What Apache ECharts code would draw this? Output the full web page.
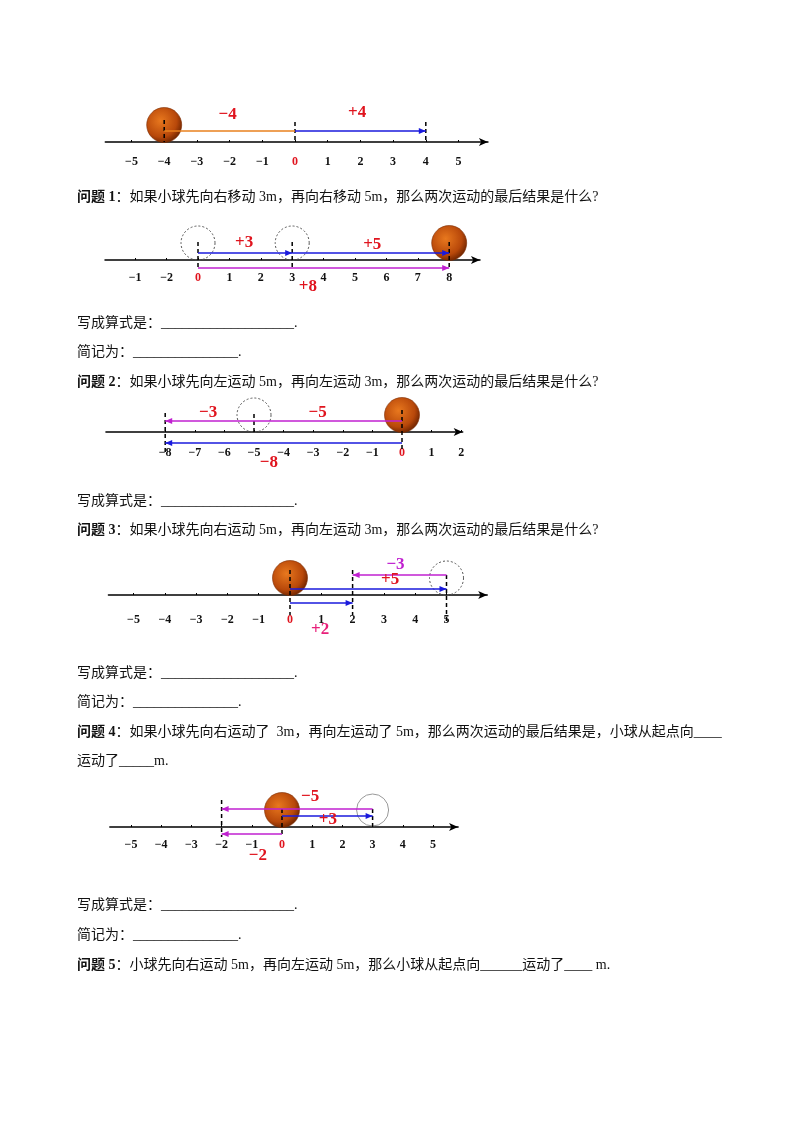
<!DOCTYPE html>
<html><head><meta charset="utf-8">
<script src="https://cdn.jsdelivr.net/npm/echarts@6/dist/echarts.min.js"></script>
<style>html,body{margin:0;background:#fff}#c{width:800px;height:1132px}</style>
</head><body><div id="c"></div>
<script>
// number lines: tick values, label texts, moves (from, to, height above axis, kind)
const ticks1 = [-5,-4,-3,-2,-1,0,1,2,3,4,5];
const labels1 = ['−5','−4','−3','−2','−1','0','1','2','3','4','5'];
const moves1 = [[-4,0,11,'orange'],[0,4,11,'blue']];
const dashes1 = [[-4,22,0],[0,20,0],[4,20,0]];
const balls1 = [[-4,17]];
const rings1 = [];
const tags1 = [[-2.06,27,'−4','red'],[1.9,29,'+4','red']];

const ticks2 = [-2,-1,0,1,2,3,4,5,6,7,8];
const labels2 = ['−1','−2','0','1','2','3','4','5','6','7','8'];
const moves2 = [[0,3,7,'blue'],[3,8,7,'blue'],[0,8,-8,'magenta']];
const dashes2 = [[0,18,-10],[3,18,-10],[8,18,-10]];
const balls2 = [[8,17]];
const rings2 = [[0,17,'dot'],[3,17,'dot']];
const tags2 = [[1.47,17,'+3','red'],[5.55,15,'+5','red'],[3.5,-27,'+8','red']];

const ticks3 = [-8,-7,-6,-5,-4,-3,-2,-1,0,1,2];
const labels3 = ['−8','−7','−6','−5','−4','−3','−2','−1','0','1','2'];
const moves3 = [[0,-8,11,'magenta'],[0,-8,-11,'blue']];
const dashes3 = [[-8,19,-20],[0,22,-20],[-5,18,-2]];
const balls3 = [[0,17]];
const rings3 = [[-5,17,'dot']];
const tags3 = [[-6.55,19,'−3','red'],[-2.85,19,'−5','red'],[-4.5,-31,'−8','red']];

const ticks4 = [-5,-4,-3,-2,-1,0,1,2,3,4,5];
const labels4 = ['−5','−4','−3','−2','−1','0','1','2','3','4','5'];
const moves4 = [[5,2,20,'magenta'],[0,5,6,'blue'],[0,2,-8,'blue']];
const dashes4 = [[0,25,-20],[2,25,-20],[5,20,-28]];
const balls4 = [[0,17]];
const rings4 = [[5,17,'dot']];
const tags4 = [[3.37,30,'−3','magenta'],[3.2,15,'+5','red'],[0.96,-35,'+2','pink']];

const ticks5 = [-5,-4,-3,-2,-1,0,1,2,3,4,5];
const labels5 = ['−5','−4','−3','−2','−1','0','1','2','3','4','5'];
const moves5 = [[3,-2,18,'magenta'],[0,3,11,'blue'],[0,-2,-7,'magenta']];
const dashes5 = [[-2,27,-10],[0,18,-10],[3,18,-2]];
const balls5 = [[0,17]];
const rings5 = [[3,16,'solid']];
const tags5 = [[0.93,30,'−5','red'],[1.52,7,'+3','red'],[-0.8,-29,'−2','red']];

const lines = [
  {ticks:ticks1,labels:labels1,moves:moves1,dashes:dashes1,balls:balls1,rings:rings1,tags:tags1,origin:295,unit:32.7,min:-5.8,max:5.9,axisY:142,margin:14},
  {ticks:ticks2,labels:labels2,moves:moves2,dashes:dashes2,balls:balls2,rings:rings2,tags:tags2,origin:198,unit:31.4,min:-2.96,max:8.98,axisY:260,margin:12},
  {ticks:ticks3,labels:labels3,moves:moves3,dashes:dashes3,balls:balls3,rings:rings3,tags:tags3,origin:402,unit:29.6,min:-10,max:2.05,axisY:432,margin:15},
  {ticks:ticks4,labels:labels4,moves:moves4,dashes:dashes4,balls:balls4,rings:rings4,tags:tags4,origin:290,unit:31.3,min:-5.8,max:6.3,axisY:595,margin:19},
  {ticks:ticks5,labels:labels5,moves:moves5,dashes:dashes5,balls:balls5,rings:rings5,tags:tags5,origin:282,unit:30.2,min:-5.7,max:5.83,axisY:827,margin:12}
];

const paragraphs = [
  [77,196,'问题 1','：如果小球先向右移动 3m，再向右移动 5m，那么两次运动的最后结果是什么?'],
  [77,322,'','写成算式是：___________________.'],
  [77,351,'','简记为：_______________.'],
  [77,381,'问题 2','：如果小球先向左运动 5m，再向左运动 3m，那么两次运动的最后结果是什么?'],
  [77,500,'','写成算式是：___________________.'],
  [77,529,'问题 3','：如果小球先向右运动 5m，再向左运动 3m，那么两次运动的最后结果是什么?'],
  [77,672,'','写成算式是：___________________.'],
  [77,701,'','简记为：_______________.'],
  [77,731,'问题 4','：如果小球先向右运动了  3m，再向左运动了 5m，那么两次运动的最后结果是，小球从起点向____'],
  [77,760,'','运动了_____m.'],
  [77,904,'','写成算式是：___________________.'],
  [77,934,'','简记为：_______________.'],
  [77,964,'问题 5','：小球先向右运动 5m，再向左运动 5m，那么小球从起点向______运动了____ m.']
];

const colors = {blue:'#1a1adc', magenta:'#c020d0', orange:'#e8801e', red:'#e0141e', pink:'#e8207a'};
const serif = "'Liberation Serif','Noto Sans CJK SC',serif";
const H = 80;

const chart = echarts.init(document.getElementById('c'));
const grids = [], xAxes = [], yAxes = [], series = [];

lines.forEach((L, i) => {
  grids.push({left: L.origin + L.min * L.unit, width: (L.max - L.min) * L.unit, top: L.axisY - H, height: H});
  xAxes.push({
    gridIndex: i, type: 'value', min: L.min, max: L.max, position: 'bottom',
    splitLine: {show: false},
    axisLine: {onZero: false, symbol: ['none','arrow'], symbolSize: [6,9], lineStyle: {color: '#000', width: 1.6}},
    axisTick: {show: true, inside: true, length: 2, customValues: L.ticks, lineStyle: {color: '#000'}},
    axisLabel: {
      customValues: L.ticks, margin: L.margin,
      formatter: v => { const t = L.labels[L.ticks.indexOf(v)]; return v === 0 ? '{z|' + t + '}' : t; },
      color: '#111', fontFamily: serif, fontWeight: 'bold', fontSize: 12,
      rich: {z: {color: colors.red, fontFamily: serif, fontWeight: 'bold', fontSize: 12}}
    }
  });
  yAxes.push({gridIndex: i, type: 'value', min: 0, max: H, show: false});
  const base = {type: 'custom', xAxisIndex: i, yAxisIndex: i, clip: false, silent: true};

  // balls (under everything else)
  series.push(Object.assign({}, base, {z: 2, data: L.balls, renderItem: (p, api) => {
    const c = api.coord([api.value(0), api.value(1)]);
    return {type: 'circle', shape: {cx: c[0], cy: c[1], r: 17.5}, style: {
      fill: new echarts.graphic.RadialGradient(0.4, 0.38, 0.65, [{offset: 0, color: '#e8781e'}, {offset: 0.7, color: '#b8480a'}, {offset: 1, color: '#6e2400'}]),
      stroke: '#7a2a00', lineWidth: 0.6}};
  }}));
  // rings
  series.push(Object.assign({}, base, {z: 3, data: L.rings, renderItem: (p, api) => {
    const c = api.coord([api.value(0), 17]);
    const solid = L.rings[p.dataIndex][2] === 'solid';
    return {type: 'circle', shape: {cx: c[0], cy: c[1], r: api.value(1)},
      style: {fill: 'none', stroke: solid ? '#999' : '#555', lineWidth: 1, lineDash: solid ? null : [2,2]}};
  }}));
  // dashed verticals
  series.push(Object.assign({}, base, {z: 4, data: L.dashes, renderItem: (p, api) => {
    const a = api.coord([api.value(0), api.value(1)]), b = api.coord([api.value(0), api.value(2)]);
    return {type: 'line', shape: {x1: a[0], y1: a[1], x2: b[0], y2: b[1]}, style: {stroke: '#000', lineWidth: 1.5, lineDash: [4,3]}};
  }}));
  // moves
  series.push(Object.assign({}, base, {z: 5, data: L.moves.map(m => m.slice(0,3)), renderItem: (p, api) => {
    const m = L.moves[p.dataIndex];
    const a = api.coord([m[0], m[2]]), b = api.coord([m[1], m[2]]);
    const col = colors[m[3]];
    const kids = [{type: 'line', shape: {x1: a[0], y1: a[1], x2: b[0], y2: b[1]}, style: {stroke: col, lineWidth: 1.6}}];
    if (m[3] !== 'orange') {
      const d = b[0] > a[0] ? 1 : -1;
      kids.push({type: 'polygon', shape: {points: [[b[0], b[1]], [b[0] - 7 * d, b[1] - 3], [b[0] - 7 * d, b[1] + 3]]}, style: {fill: col}});
    }
    return {type: 'group', children: kids};
  }}));
  // value tags
  series.push(Object.assign({}, base, {z: 6, data: L.tags.map(t => t.slice(0,2)), renderItem: (p, api) => {
    const t = L.tags[p.dataIndex];
    const c = api.coord([t[0], t[1]]);
    return {type: 'text', x: c[0], y: c[1], style: {text: t[2], fill: colors[t[3]], font: 'bold 17px ' + serif, align: 'center', verticalAlign: 'middle'}};
  }}));
});

chart.setOption({
  animation: false,
  grid: grids, xAxis: xAxes, yAxis: yAxes, series: series,
  graphic: paragraphs.map(q => ({
    type: 'text', left: q[0], top: q[1] - 6,
    style: {
      text: (q[2] ? '{b|' + q[2] + '}' : '') + q[3],
      font: '14px ' + serif, fill: '#111',
      rich: {b: {fontWeight: 'bold', fontSize: 14, fontFamily: serif}}
    }
  }))
});
</script></body></html>
